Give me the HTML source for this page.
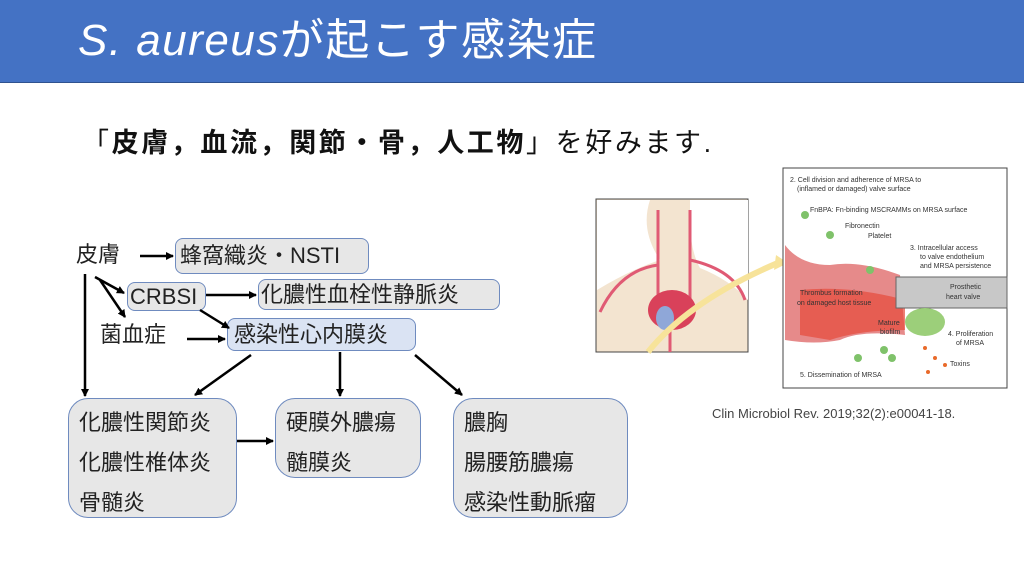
<!DOCTYPE html>
<html><head><meta charset="utf-8"><style>
body{margin:0;width:1024px;height:576px;background:#fff;overflow:hidden;position:relative;font-family:"Liberation Sans","Noto Sans CJK JP",sans-serif}
.hdr{position:absolute;left:0;top:0;width:1024px;height:82px;background:#4472c4;border-bottom:1px solid #2f528f}
.title{position:absolute;left:78px;top:13px;color:#fff;font-size:44px;line-height:56px;white-space:nowrap;letter-spacing:1.5px}
.sub{position:absolute;left:82px;top:126px;font-size:27px;line-height:34px;color:#111;white-space:nowrap;letter-spacing:2.6px}
.t{position:absolute;font-size:22px;line-height:28px;color:#222;white-space:nowrap}
.box{position:absolute;box-sizing:border-box;border:1.5px solid #6f8bbf;border-radius:8px;background:#e7e7e7}
.big{border-radius:20px;padding:4px 0 0 10px;font-size:22px;line-height:40px;color:#222}
</style></head><body>
<div class="hdr"></div>
<div class="title"><i>S. aureus</i>が起こす感染症</div>
<div class="sub">「<b>皮膚，血流，関節・骨，人工物</b>」を好みます.</div>

<div class="box" style="left:175px;top:238px;width:194px;height:36px"></div>
<div class="box" style="left:127px;top:282px;width:79px;height:29px"></div>
<div class="box" style="left:258px;top:279px;width:242px;height:31px"></div>
<div class="box" style="left:227px;top:318px;width:189px;height:33px;background:#dae3f3"></div>
<div class="box big" style="left:68px;top:398px;width:169px;height:120px">化膿性関節炎<br>化膿性椎体炎<br>骨髄炎</div>
<div class="box big" style="left:275px;top:398px;width:146px;height:80px">硬膜外膿瘍<br>髄膜炎</div>
<div class="box big" style="left:453px;top:398px;width:175px;height:120px">膿胸<br>腸腰筋膿瘍<br>感染性動脈瘤</div>

<div class="t" style="left:76px;top:241px">皮膚</div>
<div class="t" style="left:180px;top:242px">蜂窩織炎・NSTI</div>
<div class="t" style="left:130px;top:283px">CRBSI</div>
<div class="t" style="left:261px;top:281px">化膿性血栓性静脈炎</div>
<div class="t" style="left:100px;top:321px">菌血症</div>
<div class="t" style="left:234px;top:321px">感染性心内膜炎</div>

<svg width="1024" height="576" style="position:absolute;left:0;top:0">
<defs><marker id="a" markerWidth="8" markerHeight="8" refX="7" refY="4" orient="auto" markerUnits="userSpaceOnUse"><path d="M0,0 L8,4 L0,8z" fill="#000"/></marker></defs>
<g stroke="#000" stroke-width="2.5" fill="none" marker-end="url(#a)">
<line x1="140" y1="256" x2="173" y2="256"/>
<line x1="85" y1="274" x2="85" y2="396"/>
<line x1="95" y1="277" x2="124" y2="293"/>
<line x1="100" y1="280" x2="125" y2="317"/>
<line x1="206" y1="295" x2="256" y2="295"/>
<line x1="200" y1="310" x2="229" y2="328"/>
<line x1="187" y1="339" x2="225" y2="339"/>
<line x1="251" y1="355" x2="195" y2="395"/>
<line x1="340" y1="352" x2="340" y2="396"/>
<line x1="415" y1="355" x2="462" y2="395"/>
<line x1="237" y1="441" x2="273" y2="441"/>
</g>
<rect x="596" y="199" width="152" height="153" fill="#f3e4d0" stroke="#444"/>
<path d="M597,200 H748 V300 Q730,280 700,268 Q690,250 690,220 L690,200 Z" fill="#fff"/>
<path d="M597,200 H650 Q640,230 660,260 Q630,270 597,290 Z" fill="#fff"/>
<g stroke="#e05a74" stroke-width="3" fill="none">
<path d="M658,210 V320"/><path d="M690,210 V300"/>
<path d="M600,312 Q620,270 658,265"/><path d="M745,300 Q735,270 690,260"/>
<path d="M670,300 V352"/>
</g>
<ellipse cx="672" cy="310" rx="24" ry="20" fill="#d9415a"/>
<ellipse cx="665" cy="318" rx="9" ry="12" fill="#8fa7d8"/>
<path d="M648,352 Q690,300 780,262" stroke="#f7e39a" stroke-width="6" fill="none"/>
<path d="M776,255 L788,263 L774,270z" fill="#f7e39a"/>
<rect x="783" y="168" width="224" height="220" fill="#fff" stroke="#444"/>
<path d="M785,245 Q800,265 830,265 Q860,260 900,275 L905,335 Q860,330 840,340 Q815,345 785,340 Z" fill="#e68a8a"/>
<path d="M800,290 Q850,285 905,300 L905,330 Q860,330 830,340 L800,335 Z" fill="#e64a3a" opacity="0.7"/>
<rect x="896" y="277" width="111" height="31" fill="#c8c8c8" stroke="#666"/>
<ellipse cx="925" cy="322" rx="20" ry="14" fill="#9ccf7a"/>
<g fill="#e96a2a"><circle cx="925" cy="348" r="2"/><circle cx="935" cy="358" r="2"/><circle cx="945" cy="365" r="2"/><circle cx="928" cy="372" r="2"/></g>
<g fill="#7fc26a"><circle cx="858" cy="358" r="4"/><circle cx="884" cy="350" r="4"/><circle cx="892" cy="358" r="4"/><circle cx="805" cy="215" r="4"/><circle cx="830" cy="235" r="4"/><circle cx="870" cy="270" r="4"/></g>
<g font-family="Liberation Sans,sans-serif" font-size="7" fill="#333">
<text x="790" y="182">2.  Cell division and adherence of MRSA to</text>
<text x="797" y="191">(inflamed or damaged) valve surface</text>
<text x="810" y="212">FnBPA: Fn-binding MSCRAMMs on MRSA surface</text>
<text x="845" y="228">Fibronectin</text><text x="868" y="238">Platelet</text>
<text x="910" y="250">3. Intracellular access</text><text x="920" y="259">to valve endothelium</text><text x="920" y="268">and MRSA persistence</text>
<text x="800" y="295">Thrombus formation</text><text x="797" y="305">on damaged host tissue</text>
<text x="950" y="289">Prosthetic</text><text x="946" y="299">heart valve</text>
<text x="878" y="325">Mature</text><text x="880" y="334">biofilm</text>
<text x="948" y="336">4. Proliferation</text><text x="956" y="345">of MRSA</text>
<text x="950" y="366">Toxins</text>
<text x="800" y="377">5.  Dissemination of MRSA</text>
</g>
<text x="712" y="418" font-family="Liberation Sans,sans-serif" font-size="13" fill="#444">Clin Microbiol Rev. 2019;32(2):e00041-18.</text>
</svg>
</body></html>
